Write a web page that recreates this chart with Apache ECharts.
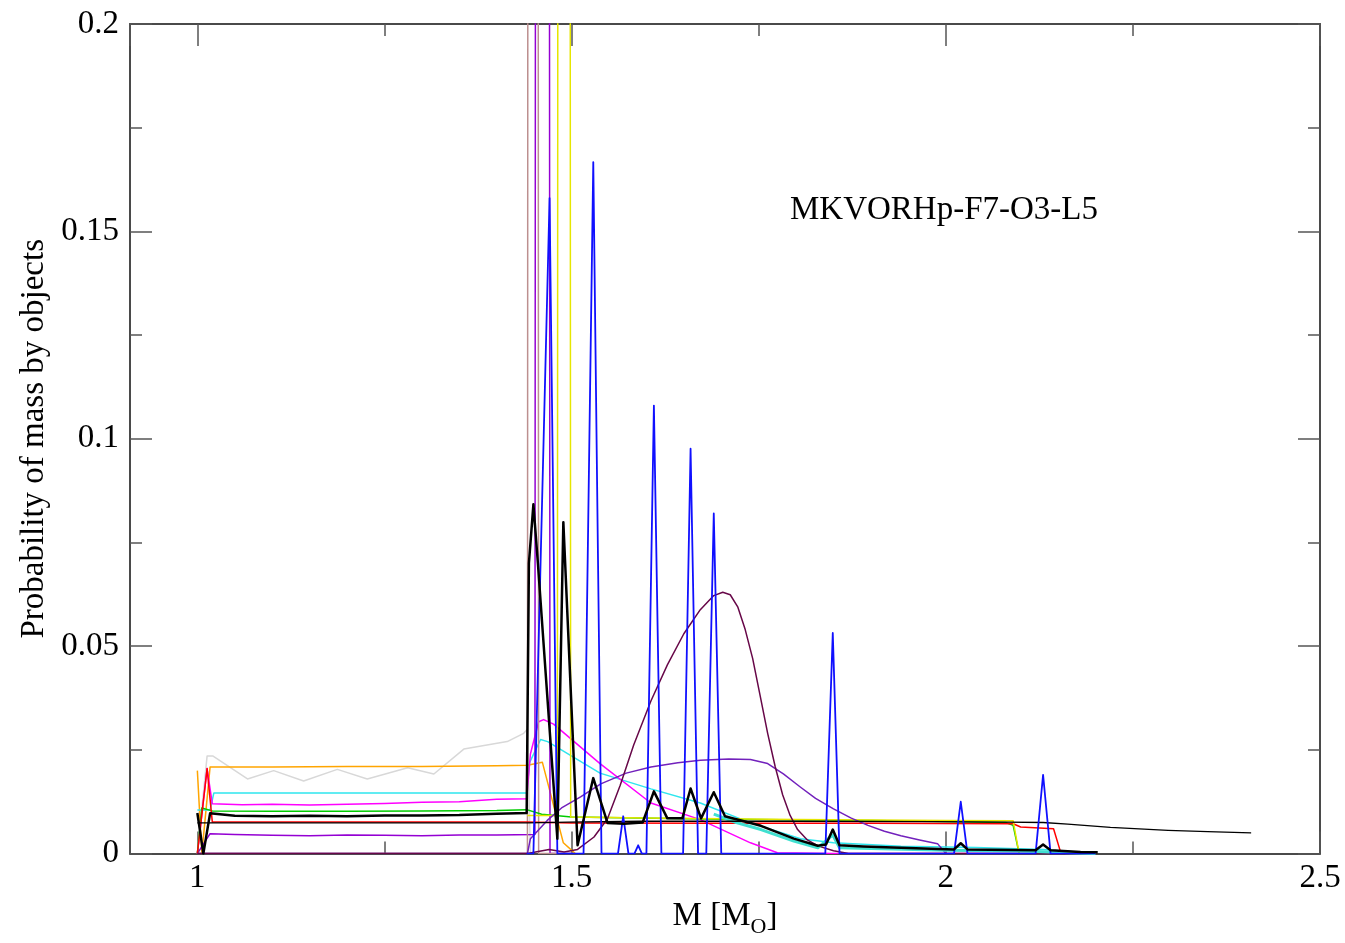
<!DOCTYPE html>
<html>
<head>
<meta charset="utf-8">
<script src="https://cdn.jsdelivr.net/npm/echarts@6/dist/echarts.min.js"></script>
<style>html,body{margin:0;padding:0;background:#fff;}#c{width:1345px;height:943px;}</style>
</head>
<body>
<div id="c"></div>
<script>
// ---- data (x = M in solar masses, y = probability) ----
const xTickLabels = ['1', '1.5', '2', '2.5'];
const yTickLabels = ['0', '0.05', '0.1', '0.15', '0.2'];

const greySeries = [[1.0,0],[1.013,0.0235],[1.021,0.0235],[1.067,0.018],[1.102,0.020],[1.142,0.0175],[1.187,0.0203],[1.227,0.018],[1.281,0.0207],[1.316,0.0192],[1.356,0.0252],[1.414,0.027],[1.436,0.029],[1.441,0.03],[1.445,0]];
const orangeSeries = [[1.0,0.02],[1.006,0],[1.017,0.0209],[1.1,0.0209],[1.2,0.021],[1.3,0.021],[1.4,0.0212],[1.441,0.0213],[1.461,0.022],[1.489,0.0026],[1.505,0]];
const cyanSeries = [[1.0,0.0105],[1.017,0.0105],[1.022,0.0146],[1.1,0.0146],[1.2,0.0146],[1.3,0.0146],[1.44,0.0146],[1.444,0.022],[1.4586,0.0275],[1.468,0.027],[1.538,0.0194],[1.606,0.0156],[1.672,0.0122],[1.739,0.0074],[1.806,0.0036],[1.85,0.0026],[1.94,0.0018],[2.04,0.0015],[2.13,0.001],[2.2,0]];
const magentaSeries = [[1.0,0],[1.013,0.0205],[1.02,0.012],[1.06,0.0118],[1.1,0.0119],[1.15,0.0117],[1.2,0.0119],[1.25,0.0121],[1.3,0.0124],[1.35,0.0125],[1.4,0.0131],[1.44,0.0132],[1.445,0.024],[1.456,0.0318],[1.4626,0.0323],[1.476,0.0312],[1.538,0.0217],[1.606,0.0122],[1.672,0.0082],[1.739,0.0026],[1.775,0.0002],[1.85,0],[2.2,0]];
const violetSeries = [[1.0,0],[1.017,0.0048],[1.05,0.0046],[1.1,0.0044],[1.15,0.0043],[1.2,0.0045],[1.25,0.0044],[1.3,0.0043],[1.35,0.0045],[1.4,0.0045],[1.451,0.0046],[1.461,3.0],[1.4712,0],[1.5,0]];
const rosySeries = [[1.0,0],[1.441,0],[1.4485,3.0],[1.456,0],[1.5,0]];
const greenSeries = [[1.0,0],[1.006,0.011],[1.02,0.0103],[1.1,0.0102],[1.2,0.0102],[1.3,0.0103],[1.4,0.0104],[1.44,0.0106],[1.46,0.0095],[1.5,0.0088],[1.7,0.0083],[1.9,0.008],[2.08,0.0075],[2.09,0.0068],[2.098,0]];
const redSeries = [[1.0,0],[1.013,0.0205],[1.02,0.0076],[1.1,0.0076],[1.2,0.0076],[1.3,0.0076],[1.44,0.0076],[1.5,0.0074],[1.7,0.0073],[1.9,0.0073],[2.09,0.0072],[2.1,0.0064],[2.144,0.006],[2.154,0]];
const yellowSeries = [[1.441,0.0092],[1.481,0.0092],[1.49,3.0],[1.4988,0.0088],[1.6,0.0086],[1.7,0.0084],[1.8,0.0082],[1.9,0.0081],[2.0,0.008],[2.09,0.0079],[2.098,0]];
const indigoSeries = [[1.0,0],[1.441,0],[1.445,0.0036],[1.4675,0.008],[1.4866,0.011],[1.512,0.0137],[1.539,0.0168],[1.573,0.0194],[1.606,0.0209],[1.642,0.0219],[1.672,0.0225],[1.71,0.0228],[1.739,0.0227],[1.762,0.0217],[1.783,0.0192],[1.806,0.016],[1.826,0.0133],[1.85,0.0108],[1.873,0.0086],[1.896,0.0068],[1.918,0.0054],[1.94,0.0043],[1.965,0.0033],[1.989,0.0024],[2.0,0]];
const maroonSeries = [[1.0,0],[1.441,0],[1.47,0.001],[1.49,0.0004],[1.508,0.001],[1.53,0.004],[1.548,0.0084],[1.565,0.0165],[1.583,0.0262],[1.606,0.0368],[1.628,0.0455],[1.65,0.053],[1.672,0.0588],[1.69,0.0622],[1.702,0.063],[1.712,0.0624],[1.722,0.0595],[1.732,0.054],[1.742,0.047],[1.752,0.038],[1.762,0.029],[1.772,0.021],[1.782,0.0142],[1.792,0.0092],[1.802,0.0058],[1.815,0.0033],[1.83,0.0018],[1.85,0.0007],[1.87,0],[2.2,0]];
const turquoiseSeries = [[1.69,0.0095],[1.72,0.0075],[1.753,0.0058],[1.797,0.003],[1.829,0.0014],[1.849,0.0045],[1.858,0.0014],[1.9,0.0012],[2.0,0.0008],[2.1,0.0006],[2.2,0]];
const blackThinSeries = [[1.0,0.0074],[1.441,0.0074],[1.495,0.0076],[1.592,0.0078],[1.789,0.0078],[1.984,0.0077],[2.08,0.0076],[2.13,0.0075],[2.163,0.0071],[2.22,0.0063],[2.297,0.0056],[2.35,0.0053],[2.408,0.005]];
const blueSeries = [[1.44,0],[1.449,0],[1.4706,0.158],[1.481,0],[1.516,0],[1.529,0.1667],[1.54,0],[1.562,0],[1.569,0.009],[1.576,0],[1.584,0],[1.589,0.002],[1.594,0],[1.6,0],[1.61,0.108],[1.62,0],[1.649,0],[1.659,0.0976],[1.669,0],[1.68,0],[1.69,0.082],[1.7,0],[1.839,0],[1.849,0.0532],[1.858,0],[2.011,0],[2.02,0.0125],[2.029,0],[2.12,0],[2.13,0.019],[2.14,0],[2.2,0]];
const blackThickSeries = [[1.0,0.0098],[1.008,0],[1.017,0.0097],[1.05,0.0091],[1.1,0.009],[1.15,0.0091],[1.2,0.009],[1.25,0.0092],[1.3,0.0092],[1.35,0.0093],[1.4,0.0096],[1.44,0.0098],[1.443,0.07],[1.449,0.0842],[1.455,0.07],[1.481,0.0036],[1.489,0.0799],[1.508,0.002],[1.529,0.0182],[1.548,0.0074],[1.57,0.0072],[1.595,0.0075],[1.61,0.015],[1.628,0.0085],[1.648,0.0085],[1.659,0.0157],[1.673,0.0085],[1.69,0.0148],[1.705,0.009],[1.72,0.0083],[1.753,0.0067],[1.797,0.0036],[1.829,0.0019],[1.84,0.0022],[1.849,0.0058],[1.858,0.002],[1.89,0.0017],[1.94,0.0014],[2.011,0.001],[2.02,0.0025],[2.029,0.001],[2.12,0.0008],[2.13,0.0022],[2.14,0.0008],[2.18,0.0004],[2.203,0.0003]];

const FONT = '"Liberation Serif", "Times New Roman", serif';
const chart = echarts.init(document.getElementById('c'), null, {renderer: 'canvas'});

function line(data, color, width) {
  return {
    type: 'line', data: data, showSymbol: false, symbol: 'none',
    lineStyle: {color: color, width: width, join: 'round'},
    clip: true, animation: false, silent: true,
    xAxisIndex: 0, yAxisIndex: 0
  };
}

const axisLineStyle = {color: '#4a4a4a', width: 2};
const tickStyle = {color: '#555', width: 1.5};

chart.setOption({
  animation: false,
  backgroundColor: '#fff',
  grid: {left: 130, right: 25, top: 24, bottom: 85},
  graphic: [{
    type: 'text', left: 790, top: 194,
    style: {text: 'MKVORHp-F7-O3-L5', font: '33px ' + FONT, fill: '#000'}
  }],
  xAxis: [{
    type: 'value', min: 0.91, max: 2.5, splitNumber: 3, position: 'bottom',
    axisLine: {show: true, onZero: false, lineStyle: axisLineStyle},
    axisTick: {show: true, inside: true, length: 22, lineStyle: tickStyle},
    minorTick: {show: true, splitNumber: 2, length: 12, lineStyle: tickStyle},
    splitLine: {show: false},
    axisLabel: {
      showMinLabel: false, margin: 8, color: '#000', fontFamily: FONT, fontSize: 33,
      formatter: function (v) {
        const s = String(Math.round(v * 100) / 100);
        return xTickLabels.indexOf(s) >= 0 ? s : '';
      }
    },
    name: '{n|M [M}{s|O}{n|]}', nameLocation: 'middle', nameGap: 30,
    nameTextStyle: {
      rich: {
        n: {fontFamily: FONT, fontSize: 33, color: '#000', lineHeight: 44},
        s: {fontFamily: FONT, fontSize: 22, color: '#000', lineHeight: 44, verticalAlign: 'bottom'}
      }
    }
  }, {
    type: 'value', min: 0.91, max: 2.5, splitNumber: 3, position: 'top',
    axisLine: {show: true, onZero: false, lineStyle: axisLineStyle},
    axisTick: {show: true, inside: true, length: 22, lineStyle: tickStyle},
    minorTick: {show: true, splitNumber: 2, length: 12, lineStyle: tickStyle},
    splitLine: {show: false}, axisLabel: {show: false}
  }],
  yAxis: [{
    type: 'value', min: 0, max: 0.2, interval: 0.05, position: 'left',
    axisLine: {show: true, onZero: false, lineStyle: axisLineStyle},
    axisTick: {show: true, inside: true, length: 22, lineStyle: tickStyle},
    minorTick: {show: true, splitNumber: 2, length: 12, lineStyle: tickStyle},
    splitLine: {show: false},
    axisLabel: {
      margin: 11, color: '#000', fontFamily: FONT, fontSize: 33,
      formatter: function (v) {
        const s = String(Math.round(v * 1000) / 1000);
        return yTickLabels.indexOf(s) >= 0 ? s : '';
      }
    },
    name: 'Probability of mass by objects', nameLocation: 'middle', nameGap: 77, nameRotate: 90,
    nameTextStyle: {fontFamily: FONT, fontSize: 33, color: '#000'}
  }, {
    type: 'value', min: 0, max: 0.2, interval: 0.05, position: 'right',
    axisLine: {show: true, onZero: false, lineStyle: axisLineStyle},
    axisTick: {show: true, inside: true, length: 22, lineStyle: tickStyle},
    minorTick: {show: true, splitNumber: 2, length: 12, lineStyle: tickStyle},
    splitLine: {show: false}, axisLabel: {show: false}
  }],
  series: [
    line(greySeries, '#d8d8d8', 1.5),
    line(orangeSeries, '#ffa500', 1.5),
    line(cyanSeries, '#2ee6ee', 1.5),
    line(magentaSeries, '#ff00ff', 1.5),
    line(violetSeries, '#9400d3', 1.5),
    line(rosySeries, '#bc8f8f', 1.5),
    line(greenSeries, '#00cc00', 1.5),
    line(redSeries, '#ff0000', 1.5),
    line(yellowSeries, '#e6e600', 1.5),
    line(indigoSeries, '#7221bc', 1.5),
    line(maroonSeries, '#670748', 1.5),
    line(turquoiseSeries, '#40e0d0', 3),
    line(blackThinSeries, '#000000', 1.3),
    line(blueSeries, '#1010ff', 1.8),
    line(blackThickSeries, '#000000', 2.5)
  ]
});
</script>
</body>
</html>
